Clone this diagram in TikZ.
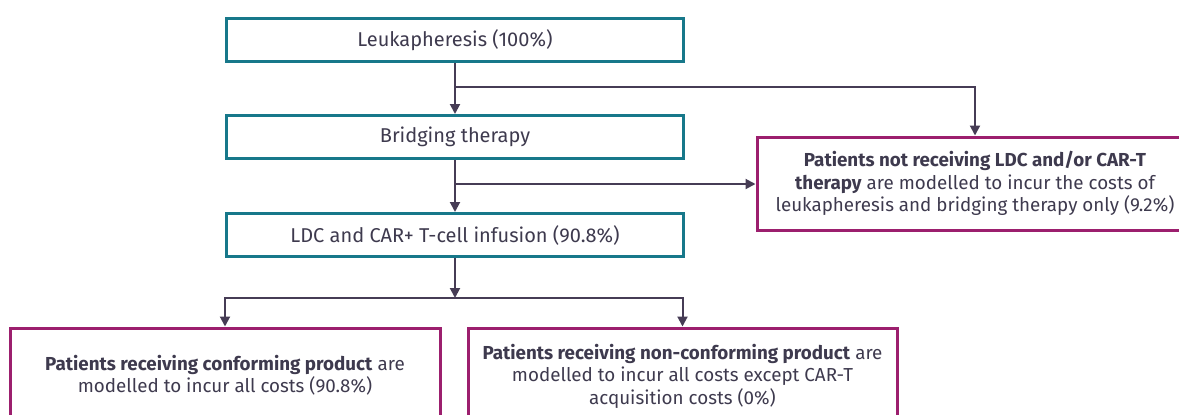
\documentclass[tikz,border=0pt]{standalone}
\usepackage{fontspec}
\setmainfont{Fira Sans}
\usepackage{xcolor}
\usetikzlibrary{arrows.meta}

\definecolor{boxteal}{HTML}{17788A}
\definecolor{boxplum}{HTML}{9C1F6E}
\definecolor{linegrey}{HTML}{463C55}
\definecolor{textgrey}{HTML}{3E3A4E}

\tikzset{
  stepbox/.style={draw=boxteal, line width=1.5pt, minimum width=228.5pt, minimum height=21.5pt, inner sep=0pt},
  costbox/.style={draw=boxplum, line width=1.5pt, align=center, inner sep=0pt,
    font=\fontsize{9.4}{11.2}\selectfont},
  link/.style={draw=linegrey, line width=1pt, -{Triangle[length=5pt,width=5pt]}}
}

\begin{document}
\begin{tikzpicture}[x=0.5pt, y=-0.5pt, font=\fontsize{10}{11.5}\selectfont, text=textgrey]
\path[use as bounding box, clip] (0,0) rectangle (1179,414);

% treatment steps
\node[stepbox] (leuk) at (455,40) {Leukapheresis (100\%)};
\node[stepbox] (bridge) at (455,137) {Bridging therapy};
\node[stepbox] (ldc) at (455,235) {LDC and CAR+ T-cell infusion (90.8\%)};

% cost outcomes
\node[costbox, minimum width=218pt, minimum height=46.5pt] (notrec) at (975,183.5)
  {\textbf{Patients not receiving LDC and/or CAR-T}\\
   \textbf{therapy} are modelled to incur the costs of\\
   leukapheresis and bridging therapy only (9.2\%)};
\node[costbox, minimum width=215pt, minimum height=47pt] (conf) at (225,375)
  {\textbf{Patients receiving conforming product} are\\
   modelled to incur all costs (90.8\%)};
\node[costbox, minimum width=214.5pt, minimum height=48pt] (nonconf) at (682.5,376)
  {\textbf{Patients receiving non-conforming product} are\\
   modelled to incur all costs except CAR-T\\
   acquisition costs (0\%)};

% branch points
\coordinate (b1) at (455,87);
\coordinate (b2) at (455,184);
\coordinate (b3) at (455,298);

\draw[link] (leuk) -- (bridge);
\draw[link] (b1) -| (notrec.north);
\draw[link] (bridge) -- (ldc);
\draw[link] (b2) -- (b2 -| notrec.west);
\draw[link] (ldc) -- (b3);
\draw[link] (b3) -| (conf.north);
\draw[link] (b3) -| (nonconf.north);
\end{tikzpicture}
\end{document}
